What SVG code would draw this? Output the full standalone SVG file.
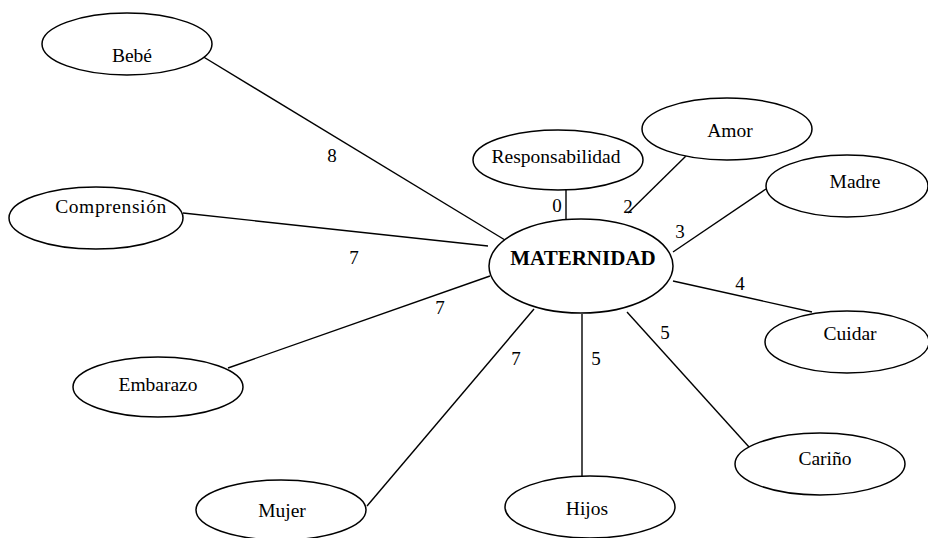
<svg xmlns="http://www.w3.org/2000/svg" width="928" height="538" viewBox="0 0 928 538">
<style>
.n ellipse{fill:#fff;stroke:#000;stroke-width:1.5}
.n text{font-family:"Liberation Serif","Times New Roman",serif;font-size:19.5px;text-anchor:middle;fill:#000}
#connectors line{stroke:#000;stroke-width:1.4}
.lbl{font-family:"Liberation Serif","Times New Roman",serif;font-size:19px;text-anchor:middle;fill:#000}
</style>
<rect width="928" height="538" fill="#fff"/>
<g id="connectors">
<line x1="197" y1="53" x2="505" y2="240"/>
<line x1="183" y1="213" x2="488" y2="246"/>
<line x1="228" y1="368" x2="490" y2="276"/>
<line x1="367" y1="506" x2="534" y2="309"/>
<line x1="582" y1="314" x2="582" y2="476"/>
<line x1="627" y1="312" x2="749" y2="447"/>
<line x1="673" y1="281" x2="812" y2="312"/>
<line x1="766" y1="189" x2="673" y2="252"/>
<line x1="688" y1="154" x2="628" y2="213"/>
<line x1="566" y1="190" x2="566" y2="219"/>
<text class="lbl" x="332" y="162">8</text>
<text class="lbl" x="354" y="264">7</text>
<text class="lbl" x="440" y="314">7</text>
<text class="lbl" x="516" y="365">7</text>
<text class="lbl" x="596" y="365">5</text>
<text class="lbl" x="665" y="339">5</text>
<text class="lbl" x="740" y="290">4</text>
<text class="lbl" x="680" y="238">3</text>
<text class="lbl" x="628" y="213">2</text>
<text class="lbl" x="557" y="212">0</text>
</g>
<g id="bebe" class="n"><ellipse cx="127" cy="44" rx="85" ry="31"/><text x="132" y="62">Bebé</text></g>
<g id="responsabilidad" class="n"><ellipse cx="558" cy="160" rx="85" ry="30"/><text x="556" y="163">Responsabilidad</text></g>
<g id="amor" class="n"><ellipse cx="727" cy="129" rx="85" ry="31"/><text x="730" y="137">Amor</text></g>
<g id="madre" class="n"><ellipse cx="847" cy="186" rx="81" ry="31"/><text x="855" y="188">Madre</text></g>
<g id="comprension" class="n"><ellipse cx="96" cy="218" rx="87" ry="31"/><text x="111" y="213" letter-spacing="0.6">Comprensión</text></g>
<g id="maternidad" class="n"><ellipse cx="581" cy="266" rx="92" ry="47"/><text x="583" y="265" style="font-weight:bold;font-size:21px">MATERNIDAD</text></g>
<g id="cuidar" class="n"><ellipse cx="847" cy="342" rx="82" ry="31"/><text x="850" y="340">Cuidar</text></g>
<g id="embarazo" class="n"><ellipse cx="158" cy="387" rx="85" ry="30"/><text x="158" y="391">Embarazo</text></g>
<g id="carino" class="n"><ellipse cx="820" cy="464" rx="85" ry="31"/><text x="825" y="465">Cariño</text></g>
<g id="mujer" class="n"><ellipse cx="281" cy="510" rx="85" ry="30"/><text x="282" y="517">Mujer</text></g>
<g id="hijos" class="n"><ellipse cx="590" cy="507" rx="85" ry="31"/><text x="587" y="515">Hijos</text></g>
</svg>
